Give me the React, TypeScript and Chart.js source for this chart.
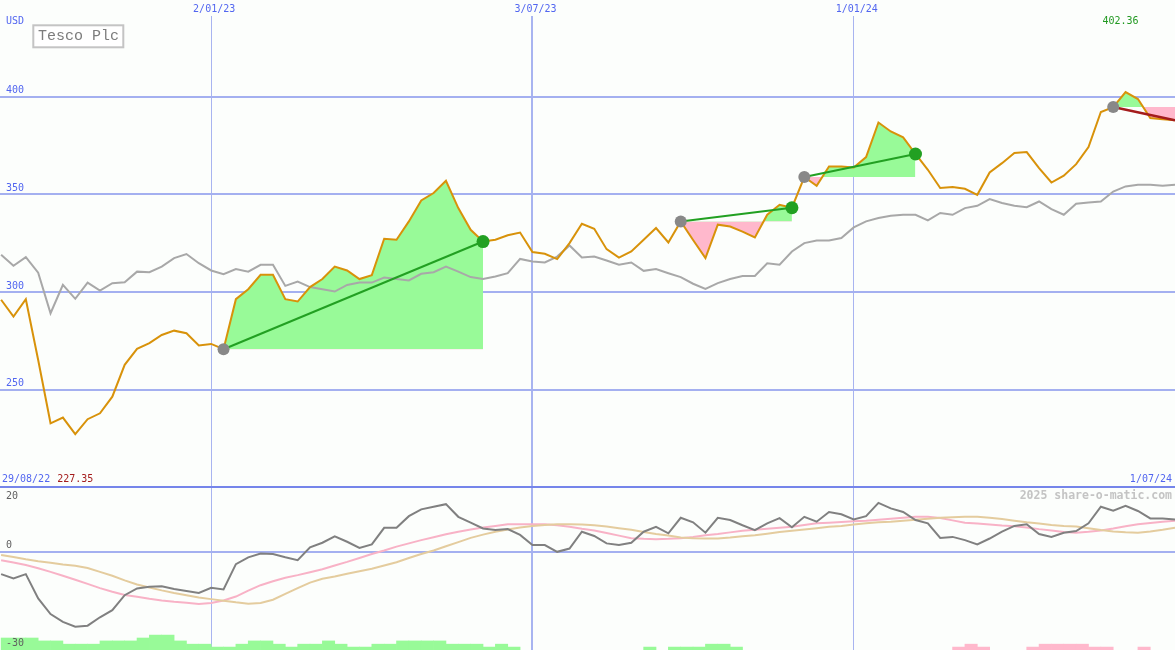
import React, { useEffect, useRef } from 'react';
import { Chart, registerables } from 'chart.js';

Chart.register(...registerables);

const W = 1175;
const H = 650;

const TITLE = 'Tesco Plc';
const CURRENCY = 'USD';
const START_LABEL = '29/08/22';
const END_LABEL = '1/07/24';
const CREDIT = '2025 share-o-matic.com';

// x axis: one point per week
const X_MIN = -0.09;
const X_MAX = 95;
const DATE_TICK_WEEKS = [17, 43, 69];
const DATE_TICK_LABELS = ['2/01/23', '3/07/23', '1/01/24'];

const PRICE_MIN = 200.3;
const PRICE_MAX = 441.3;
const PRICE_TICKS = [250, 300, 350, 400];

const IND_MIN = -30.3;
const IND_MAX = 20;
const IND_TICKS = [-30, 0, 20];

const PRICE = [
  296.1, 287.5, 296.4, 265.3, 232.9, 235.8, 227.35, 235, 238, 246.5,
  262.8, 271, 273.9, 278.1, 280.3, 279, 272.7, 273.5, 270.8, 296.4,
  301.5, 308.9, 308.9, 296.4, 295.2, 302.6, 306.7, 313.1, 311.1, 306.7,
  308.7, 327.3, 326.8, 336.2, 346.9, 350.7, 357, 343, 331.9, 325.9,
  326.8, 329.1, 330.5, 320.5, 319.6, 316.9, 325.1, 335, 332.4, 322,
  317.7, 320.8, 326.8, 332.8, 325.4, 336.2, 326.7, 317.4, 334.5, 333.6,
  331, 328, 339.6, 344.7, 343.2, 358.9, 354.4, 364.3, 364.3, 363.8,
  369.1, 386.8, 382.2, 379.2, 370.7, 362.6, 353.3, 353.8, 352.9, 349.8,
  361.2, 366, 371.2, 371.7, 363.5, 356.1, 359.6, 365.5, 374.2, 392.2,
  394.7, 402.36, 398.8, 389.1, 388.5, 388,
];

const RELATIVE = [
  319.1, 313.5, 317.9, 310, 289.2, 303.7, 296.6, 304.9, 300.8, 304.6,
  305.1, 310.5, 310.2, 313.1, 317.4, 319.5, 314.8, 311.1, 309.2, 311.8,
  310.5, 314, 314, 303.2, 305.4, 302.6, 301.5, 300.3, 303.7, 304.9,
  304.9, 307.5, 306.7, 306, 309.4, 310.2, 313.1, 310.5, 307.7, 306.7,
  308, 309.7, 317, 315.7, 315.2, 318.2, 323.9, 317.7, 318.2, 316.2,
  314, 315.2, 310.9, 311.8, 309.7, 307.7, 304.3, 301.7, 304.6, 306.7,
  308.3, 308.3, 314.8, 314, 320.8, 325.1, 326.4, 326.4, 327.7, 333.1,
  336.2, 337.9, 339.1, 339.6, 339.6, 336.7, 340.5, 339.6, 343, 344.2,
  347.6, 345.6, 344.2, 343.5, 346.4, 342.5, 339.6, 345.2, 345.9, 346.4,
  351.5, 354.1, 355, 355, 354.4, 355,
];

const MOMENTUM = [
  -6.9, -8.2, -6.9, -14.4, -19.2, -21.6, -23.1, -22.8, -20.2, -18,
  -13.4, -11.3, -10.8, -10.6, -11.5, -12.1, -12.7, -11.1, -11.6, -3.8,
  -1.7, -0.5, -0.7, -1.7, -2.6, 1.4, 2.8, 4.8, 3.1, 1.2,
  2.3, 7.4, 7.4, 11, 13.1, 13.9, 14.7, 10.8, 9, 7.2,
  6.7, 7, 5.2, 2.1, 2.1, 0, 1, 6.2, 4.9, 2.6,
  2.1, 2.8, 6.2, 7.7, 5.7, 10.5, 9.1, 5.9, 10.5, 9.8,
  8.2, 6.7, 8.8, 10.4, 7.6, 10.8, 9.3, 12.3, 11.6, 10,
  11, 15.1, 13.4, 12.3, 9.8, 8.8, 4.3, 4.6, 3.6, 2.3,
  4.1, 6.2, 8, 8.5, 5.5, 4.6, 5.9, 6.4, 8.8, 13.9,
  12.7, 14.2, 12.6, 10.3, 10.3, 10,
];

const SIGNAL_FAST = [
  -2.6, -3.3, -4.1, -5.1, -6.2, -7.4, -8.6, -9.9, -11.2, -12.3,
  -13.3, -13.9, -14.5, -15, -15.4, -15.7, -16.1, -15.8, -15, -13.8,
  -12, -10.3, -9.1, -8, -7.2, -6.3, -5.4, -4.2, -3.1, -1.9,
  -0.7, 0.4, 1.6, 2.6, 3.6, 4.5, 5.4, 6.2, 6.9, 7.5,
  8, 8.5, 8.5, 8.5, 8.5, 8.2, 7.7, 7.1, 6.6, 5.8,
  5, 4.2, 4, 3.9, 4, 4.2, 4.6, 5.1, 5.5, 6,
  6.5, 6.8, 7.1, 7.4, 7.7, 8.3, 8.8, 9, 9.2, 9.4,
  9.6, 9.9, 10.2, 10.5, 10.8, 10.8, 10.4, 9.7, 9, 8.7,
  8.4, 8.1, 7.9, 7.5, 7, 6.6, 6.1, 5.9, 6.2, 6.6,
  7.2, 7.9, 8.5, 8.9, 9.3, 9.6,
];

const SIGNAL_SLOW = [
  -1, -1.6, -2.3, -2.9, -3.4, -3.9, -4.3, -5, -6.2, -7.4,
  -8.8, -10.1, -11, -11.9, -12.7, -13.4, -14.1, -14.6, -15.1, -15.6,
  -16, -15.8, -14.8, -13, -11.2, -9.5, -8.3, -7.6, -6.8, -6,
  -5.2, -4.2, -3.2, -1.9, -0.7, 0.4, 1.7, 3, 4.3, 5.3,
  6.2, 6.9, 7.5, 8, 8.3, 8.5, 8.5, 8.4, 8.2, 7.8,
  7.3, 6.8, 6.1, 5.5, 5, 4.4, 4.2, 4.1, 4.1, 4.4,
  4.8, 5.1, 5.6, 6.1, 6.5, 6.9, 7.3, 7.7, 8, 8.4,
  8.8, 9.1, 9.3, 9.6, 9.9, 10.2, 10.5, 10.7, 10.8, 10.8,
  10.5, 10.1, 9.6, 9.1, 8.7, 8.3, 8, 7.8, 7.3, 6.7,
  6.3, 6, 5.9, 6.3, 6.8, 7.4,
];

// weekly bars along the bottom of the indicator panel (bar tops, indicator units)
const BARS_UP = [
  -26.6, -26.6, -26.6, -27.5, -27.5, -28.5, -28.5, -28.5, -27.5, -27.5,
  -27.5, -26.6, -25.7, -25.7, -27.5, -28.5, -28.5, -29.4, -29.4, -28.5,
  -27.5, -27.5, -28.5, -29.4, -28.5, -28.5, -27.5, -28.5, -29.4, -29.4,
  -28.5, -28.5, -27.5, -27.5, -27.5, -27.5, -28.5, -28.5, -28.5, -29.4,
  -28.5, -29.4, null, null, null, null, null, null, null, null,
  null, null, -29.4, null, -29.4, -29.4, -29.4, -28.5, -28.5, -29.4,
  null, null, null, null, null, null, null, null, null, null,
  null, null, null, null, null, null, null, null, null, null,
  null, null, null, null, null, null, null, null, null, null,
  null, null, null, null, null, null,
];

const BARS_DOWN = [
  null, null, null, null, null, null, null, null, null, null,
  null, null, null, null, null, null, null, null, null, null,
  null, null, null, null, null, null, null, null, null, null,
  null, null, null, null, null, null, null, null, null, null,
  null, null, null, null, null, null, null, null, null, null,
  null, null, null, null, null, null, null, null, null, null,
  null, null, null, null, null, null, null, null, null, null,
  null, null, null, null, null, null, null, -29.4, -28.5, -29.4,
  null, null, null, -29.4, -28.5, -28.5, -28.5, -28.5, -29.4, -29.4,
  null, null, -29.4, null, null, null,
];

// trade signals: start/end week index
const SEG_START = [18, 55, 65, 90];
const SEG_END = [39, 64, 74, 95];
const SEG_CLOSED = [true, true, true, false];

const BG = '#fcfefc';
const BLUE_TEXT = '#5266f0';
const GRID_H = '#a4b0f0';
const GRID_V = '#a8b4f0';
const SEP = '#7585ea';
const ORANGE = '#d8920a';
const GREY_LINE = '#a8a8a8';
const MOM_COLOR = '#808080';
const PINK_LINE = '#f8b2c6';
const TAN_LINE = '#e4cc9e';
const GREEN_FILL = '#98fa98';
const PINK_FILL = '#ffb8cc';
const TREND_GREEN = '#22a022';
const TREND_RED = '#a41c1c';
const DOT_GREY = '#888888';
const MONO = '"DejaVu Sans Mono", "Liberation Mono", monospace';

const pts = (arr: (number | null)[], shift = 0) => arr.map((v, i) => ({ x: i + shift, y: v }));

const zeroPadding = (s: any) => {
  s.paddingLeft = 0;
  s.paddingRight = 0;
  s.paddingTop = 0;
  s.paddingBottom = 0;
};

const overlay = {
  id: 'overlay',
  beforeDraw(chart: any) {
    const { ctx, width, height } = chart;
    ctx.save();
    ctx.fillStyle = BG;
    ctx.fillRect(0, 0, width, height);
    ctx.restore();
  },
  beforeDatasetsDraw(chart: any) {
    const { ctx } = chart;
    ctx.save();
    ctx.font = 'bold 11.5px ' + MONO;
    ctx.fillStyle = '#c4c4c4';
    ctx.textAlign = 'right';
    ctx.textBaseline = 'middle';
    ctx.fillText(CREDIT, 1172, 496);
    ctx.restore();
  },
  afterDraw(chart: any) {
    const { ctx } = chart;
    const xs = chart.scales.x;
    ctx.save();
    ctx.textBaseline = 'middle';
    ctx.font = '10px ' + MONO;
    ctx.textAlign = 'left';
    ctx.fillStyle = BLUE_TEXT;
    ctx.fillText(CURRENCY, 6, 21);
    ctx.fillText(START_LABEL, 2, 479);
    ctx.textAlign = 'right';
    ctx.fillText(END_LABEL, 1172, 479);

    const maxV = Math.max(...PRICE);
    const minV = Math.min(...PRICE);
    const maxI = PRICE.indexOf(maxV);
    const minI = PRICE.indexOf(minV);
    ctx.textAlign = 'center';
    ctx.fillStyle = '#229922';
    ctx.fillText(maxV.toFixed(2), xs.getPixelForValue(maxI) - 5, 21);
    ctx.fillStyle = TREND_RED;
    ctx.fillText(minV.toFixed(2), xs.getPixelForValue(minI), 479);

    // title box
    ctx.fillStyle = '#ffffff';
    ctx.fillRect(33.3, 25.3, 90, 22);
    ctx.strokeStyle = '#c4c4c4';
    ctx.lineWidth = 2;
    ctx.strokeRect(33.3, 25.3, 90, 22);
    ctx.font = '15px "Liberation Mono", "DejaVu Sans Mono", monospace';
    ctx.fillStyle = '#7c7c7c';
    ctx.fillText(TITLE, 78.5, 36.5);
    ctx.restore();
  },
};

function buildDatasets() {
  const ds: any[] = [];
  SEG_START.forEach((s, k) => {
    const e = SEG_END[k];
    const closed = SEG_CLOSED[k];
    ds.push({
      type: 'line',
      yAxisID: 'y',
      data: [
        { x: s, y: PRICE[s] },
        { x: e, y: PRICE[e] },
      ],
      borderColor: closed ? TREND_GREEN : TREND_RED,
      borderWidth: closed ? 2 : 2.5,
      pointRadius: [6, closed ? 6.5 : 0],
      pointBackgroundColor: [DOT_GREY, TREND_GREEN],
      pointBorderWidth: 0,
      fill: false,
      order: 0,
    });
    ds.push({
      type: 'line',
      yAxisID: 'y',
      data: PRICE.slice(s, e + 1).map((v, j) => ({ x: s + j, y: v })),
      borderWidth: 0,
      borderColor: 'rgba(0,0,0,0)',
      pointRadius: 0,
      fill: { target: { value: PRICE[s] }, above: GREEN_FILL, below: PINK_FILL },
      order: 4,
    });
  });
  ds.push({
    type: 'line', yAxisID: 'y', data: pts(PRICE), borderColor: ORANGE, borderWidth: 2,
    pointRadius: 0, fill: false, order: 1,
  });
  ds.push({
    type: 'line', yAxisID: 'y', data: pts(RELATIVE), borderColor: GREY_LINE, borderWidth: 2,
    pointRadius: 0, fill: false, order: 2,
  });
  ds.push({
    type: 'line', yAxisID: 'y2', data: pts(MOMENTUM), borderColor: MOM_COLOR, borderWidth: 2,
    pointRadius: 0, fill: false, order: 1,
  });
  ds.push({
    type: 'line', yAxisID: 'y2', data: pts(SIGNAL_FAST), borderColor: PINK_LINE, borderWidth: 2,
    pointRadius: 0, fill: false, order: 3,
  });
  ds.push({
    type: 'line', yAxisID: 'y2', data: pts(SIGNAL_SLOW), borderColor: TAN_LINE, borderWidth: 2,
    pointRadius: 0, fill: false, order: 2,
  });
  ds.push({
    type: 'bar', yAxisID: 'y2', data: pts(BARS_UP, 0.5), backgroundColor: GREEN_FILL,
    base: IND_MIN, grouped: false, barPercentage: 1, categoryPercentage: 1, borderWidth: 0, order: 6,
  });
  ds.push({
    type: 'bar', yAxisID: 'y2', data: pts(BARS_DOWN, 0.5), backgroundColor: PINK_FILL,
    base: IND_MIN, grouped: false, barPercentage: 1, categoryPercentage: 1, borderWidth: 0, order: 6,
  });
  return ds;
}

export default function App() {
  const ref = useRef<HTMLCanvasElement>(null);
  useEffect(() => {
    const canvas = ref.current;
    if (!canvas) return;
    const tickFont = { family: MONO, size: 10 };
    const chart = new Chart(canvas, {
      type: 'line',
      data: { datasets: buildDatasets() },
      plugins: [overlay],
      options: {
        responsive: false,
        animation: false,
        devicePixelRatio: 1,
        events: [],
        layout: { padding: 0, autoPadding: false },
        elements: { line: { tension: 0 }, point: { radius: 0 } },
        plugins: { legend: { display: false }, tooltip: { enabled: false } },
        scales: {
          x: {
            type: 'linear',
            position: 'top',
            min: X_MIN,
            max: X_MAX,
            offset: false,
            afterBuildTicks: (s: any) => {
              s.ticks = DATE_TICK_WEEKS.map((v) => ({ value: v }));
            },
            afterFit: (s: any) => {
              s.height = 16;
              zeroPadding(s);
            },
            grid: {
              color: GRID_V,
              lineWidth: (c: any) => (c.index === 1 ? 2 : 1),
              drawTicks: false,
              offset: false,
            },
            border: { display: false },
            ticks: {
              padding: 1,
              labelOffset: 3,
              color: BLUE_TEXT,
              font: tickFont,
              maxRotation: 0,
              autoSkip: false,
              callback: (_v: any, i: number) => DATE_TICK_LABELS[i],
            },
          },
          y: {
            type: 'linear',
            position: 'left',
            stack: 'panels',
            stackWeight: 471,
            weight: 2,
            min: PRICE_MIN,
            max: PRICE_MAX,
            afterBuildTicks: (s: any) => {
              s.ticks = PRICE_TICKS.map((v) => ({ value: v }));
            },
            afterFit: (s: any) => {
              s.width = 0;
              zeroPadding(s);
            },
            grid: { color: GRID_H, lineWidth: 2, drawTicks: false },
            border: { display: false },
            ticks: {
              mirror: true,
              padding: 6,
              labelOffset: -6,
              autoSkip: false,
              color: BLUE_TEXT,
              font: tickFont,
              callback: (v: any) => String(v),
            },
          },
          y2: {
            type: 'linear',
            position: 'left',
            stack: 'panels',
            stackWeight: 163,
            weight: 1,
            min: IND_MIN,
            max: IND_MAX,
            afterBuildTicks: (s: any) => {
              s.ticks = IND_TICKS.map((v) => ({ value: v }));
            },
            afterFit: (s: any) => {
              s.width = 0;
              zeroPadding(s);
            },
            grid: {
              color: (c: any) =>
                c.tick && c.tick.value === IND_MAX ? SEP : c.tick && c.tick.value === 0 ? GRID_H : 'rgba(0,0,0,0)',
              lineWidth: 2,
              drawTicks: false,
            },
            border: { display: false },
            ticks: {
              z: 1,
              mirror: true,
              padding: 6,
              labelOffset: -6,
              autoSkip: false,
              color: '#606060',
              font: { family: MONO, size: 10, lineHeight: 1.5 },
              callback: (v: any) => (v === IND_MAX ? ['', '', String(v)] : String(v)),
            },
          },
        },
      } as any,
    });
    return () => chart.destroy();
  }, []);

  return (
    <div style={{ position: 'fixed', left: 0, top: 0, width: W, height: H, background: BG }}>
      <canvas ref={ref} width={W} height={H} style={{ display: 'block', width: W, height: H }} />
    </div>
  );
}
